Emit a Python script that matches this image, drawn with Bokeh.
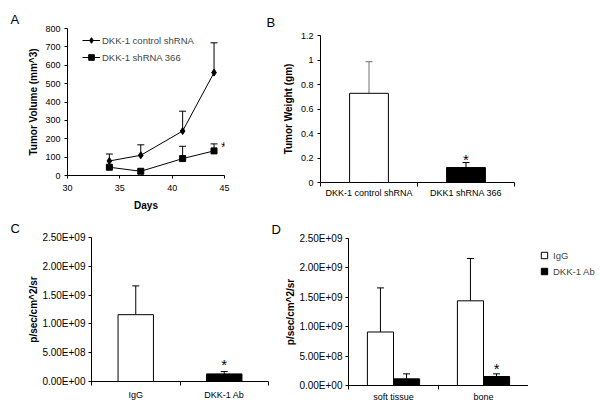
from bokeh.plotting import figure
from bokeh.layouts import column, row
from bokeh.models import (ColumnDataSource, Whisker, TeeHead, FixedTicker, Range1d,
                          Legend, LegendItem, Label, Spacer)
from bokeh.embed import file_html
from bokeh.resources import INLINE

FONT = "Liberation Sans"

# ---------------- Panel A data ----------------
days = [34, 37, 41, 44]
ctrl_vol = [79, 110, 242, 560]
ctrl_err = [38, 57, 108, 162]
sh_vol = [45, 23, 92, 134]
sh_err = [0, 0, 67, 38]
a_xticks = [30, 35, 40, 45]
a_yticks = [0, 100, 200, 300, 400, 500, 600, 700, 800]

# ---------------- Panel B data ----------------
b_groups = ["DKK-1 control shRNA", "DKK1 shRNA 366"]
b_weight = [0.728, 0.122]
b_err = [0.258, 0.041]
b_colors = ["white", "black"]
b_yticks = [0, 0.2, 0.4, 0.6, 0.8, 1.0, 1.2]
b_ylabels = ["0", "0.2", "0.4", "0.6", "0.8", "1", "1.2"]

# ---------------- Panel C data ----------------
c_groups = ["IgG", "DKK-1 Ab"]
c_signal = [1.16e9, 0.132e9]
c_err = [0.50e9, 0.040e9]
c_colors = ["white", "black"]

# ---------------- Panel D data ----------------
d_sites = ["soft tissue", "bone"]
d_series = ["IgG", "DKK-1 Ab"]
d_igg = [0.91e9, 1.44e9]
d_igg_err = [0.75e9, 0.72e9]
d_ab = [0.113e9, 0.153e9]
d_ab_err = [0.085e9, 0.045e9]

sci_ticks = [0, 500000000, 1000000000, 1500000000, 2000000000, 2500000000]
sci_labels = ["0.00E+00", "5.00E+08", "1.00E+09", "1.50E+09", "2.00E+09", "2.50E+09"]


def style(p):
    p.outline_line_color = None
    p.xgrid.visible = False
    p.ygrid.visible = False
    p.background_fill_color = "white"
    p.border_fill_color = "white"
    for ax in p.axis:
        ax.axis_line_color = "black"
        ax.major_tick_line_color = "black"
        ax.major_tick_in = 0
        ax.major_tick_out = 3
        ax.minor_tick_line_color = None
        ax.major_label_text_font = FONT
        ax.major_label_text_font_size = "9px"
        ax.major_label_text_color = "black"
        ax.axis_label_text_font = FONT
        ax.axis_label_text_font_size = "10px"
        ax.axis_label_text_font_style = "bold"
        ax.axis_label_text_color = "black"


def letter(p, txt, offset, standoff):
    p.title.text = txt
    p.title.align = "left"
    p.title.offset = offset
    p.title.standoff = standoff
    p.title.text_font = FONT
    p.title.text_font_size = "13px"
    p.title.text_font_style = "normal"
    p.title.text_color = "black"


def star(p, x, y, dx, dy):
    p.add_layout(Label(x=x, y=y, text="*", x_offset=dx, y_offset=dy,
                       text_font=FONT, text_font_size="15px", text_align="center",
                       text_baseline="middle", text_color="black"))


def whisk(p, xs, vals, errs, color="black"):
    keep = [i for i in range(len(xs)) if errs[i] > 0]
    src = ColumnDataSource(dict(base=[xs[i] for i in keep],
                                lower=[vals[i] for i in keep],
                                upper=[vals[i] + errs[i] for i in keep]))
    p.add_layout(Whisker(source=src, base="base", lower="lower", upper="upper",
                         dimension="height", line_color=color, line_width=1,
                         lower_head=None,
                         upper_head=TeeHead(size=7, line_color=color, line_width=1)))


def cat_axis(p, labels, standoff):
    centers = [i + 0.5 for i in range(len(labels))]
    bounds = [float(i) for i in range(len(labels) + 1)]
    ax = p.xaxis[0]
    ax.ticker = FixedTicker(ticks=centers, minor_ticks=bounds)
    ax.major_label_overrides = {c: l for c, l in zip(centers, labels)}
    ax.major_tick_out = 0
    ax.minor_tick_line_color = "black"
    ax.minor_tick_in = 0
    ax.minor_tick_out = 4
    ax.major_label_standoff = standoff
    return centers


def sci_axis(p, standoff):
    ax = p.yaxis[0]
    ax.ticker = FixedTicker(ticks=sci_ticks)
    ax.major_label_overrides = {t: l for t, l in zip(sci_ticks, sci_labels)}
    ax.major_label_text_font_size = "10px"
    ax.axis_label = "p/sec/cm^2/sr"
    ax.major_label_standoff = 3
    ax.axis_label_standoff = standoff


# ================= Panel A =================
pA = figure(width=262, height=214, x_range=Range1d(30, 45), y_range=Range1d(0, 800),
            min_border_left=67, min_border_right=38, min_border_top=28, min_border_bottom=39,
            output_backend="svg", toolbar_location=None)
style(pA)
pA.xaxis.ticker = FixedTicker(ticks=a_xticks)
pA.yaxis.ticker = FixedTicker(ticks=a_yticks)
pA.xaxis.axis_label = "Days"
pA.yaxis.axis_label = "Tumor Volume (mm^3)"
pA.xaxis.major_label_standoff = 6
pA.yaxis.major_label_standoff = 4
pA.xaxis.axis_label_standoff = 6
pA.yaxis.axis_label_standoff = 3

whisk(pA, days, ctrl_vol, ctrl_err)
whisk(pA, days, sh_vol, sh_err)
l1 = pA.line(days, ctrl_vol, line_color="black", line_width=1)
s1 = pA.scatter(days, ctrl_vol, marker="diamond", size=7, fill_color="black", line_color="black")
l2 = pA.line(days, sh_vol, line_color="black", line_width=1)
s2 = pA.scatter(days, sh_vol, marker="square", size=6, fill_color="black", line_color="black")

legA = Legend(items=[LegendItem(label="DKK-1 control shRNA", renderers=[l1, s1]),
                     LegendItem(label="DKK-1 shRNA 366", renderers=[l2, s2])],
              location=(15, 111), padding=0, margin=0, spacing=3,
              glyph_width=18, glyph_height=14, label_height=14, label_standoff=2,
              border_line_color=None, background_fill_alpha=0,
              label_text_font=FONT, label_text_font_size="9.5px")
pA.add_layout(legA)
star(pA, days[-1], sh_vol[-1] + sh_err[-1], 10, -3)
letter(pA, "A", -57, 4)

# ================= Panel B =================
pB = figure(width=338, height=207, x_range=Range1d(0, 2), y_range=Range1d(0, 1.2),
            min_border_left=58, min_border_right=86, min_border_top=28, min_border_bottom=32,
            output_backend="svg", toolbar_location=None)
style(pB)
bx = cat_axis(pB, b_groups, 1)
pB.yaxis.ticker = FixedTicker(ticks=b_yticks)
pB.yaxis.major_label_overrides = {t: l for t, l in zip(b_yticks, b_ylabels)}
pB.yaxis.axis_label = "Tumor Weight (gm)"
pB.yaxis.major_label_standoff = 4
pB.yaxis.axis_label_standoff = 4
pB.vbar(x=bx, top=b_weight, width=0.4, bottom=0, fill_color=b_colors, line_color="black")
whisk(pB, bx[:1], b_weight[:1], b_err[:1], color="#707070")
whisk(pB, bx[1:], b_weight[1:], b_err[1:])
star(pB, bx[1], b_weight[1] + b_err[1], 0, 3)
letter(pB, "B", -54, 11)

# ================= Panel C =================
pC = figure(width=270, height=196, x_range=Range1d(0, 2), y_range=Range1d(0, 2.5e9),
            min_border_left=91, min_border_right=2, min_border_top=23, min_border_bottom=29,
            output_backend="svg", toolbar_location=None)
style(pC)
cx = cat_axis(pC, c_groups, 4)
sci_axis(pC, 0)
pC.vbar(x=cx, top=c_signal, width=0.4, bottom=0, fill_color=c_colors, line_color="black")
whisk(pC, cx, c_signal, c_err)
star(pC, cx[1], c_signal[1] + c_err[1], 0, 7)
letter(pC, "C", -81, 3)

# ================= Panel D =================
pD = figure(width=258, height=195, x_range=Range1d(0, 2), y_range=Range1d(0, 2.5e9),
            min_border_left=78, min_border_right=0, min_border_top=23, min_border_bottom=25,
            output_backend="svg", toolbar_location=None)
style(pD)
dx = cat_axis(pD, d_sites, 2)
sci_axis(pD, 0)
half = 0.145
x_igg = [c - half for c in dx]
x_ab = [c + half for c in dx]
pD.vbar(x=x_igg, top=d_igg, width=0.29, bottom=0, fill_color="white", line_color="black")
pD.vbar(x=x_ab, top=d_ab, width=0.29, bottom=0, fill_color="black", line_color="black")
whisk(pD, x_igg, d_igg, d_igg_err)
whisk(pD, x_ab, d_ab, d_ab_err)
star(pD, x_ab[1], d_ab[1] + d_ab_err[1], 0, 5)
letter(pD, "D", -77, 3)

# legend of panel D, drawn in a narrow companion figure to the right
# (the series are re-plotted there as square markers only so that the legend
#  has glyphs; that figure's visible y range lies below zero, so none shows)
pL = figure(width=72, height=195, x_range=Range1d(0, 2), y_range=Range1d(-5e9, -2.5e9),
            min_border=0, x_axis_type=None, y_axis_type=None,
            output_backend="svg", toolbar_location=None)
pL.outline_line_color = None
pL.xgrid.visible = False
pL.ygrid.visible = False
rI = pL.scatter(x=x_igg, y=d_igg, marker="square", size=7,
                fill_color="white", line_color="black")
rA = pL.scatter(x=x_ab, y=d_ab, marker="square", size=7,
                fill_color="black", line_color="black")
legD = Legend(items=[LegendItem(label=d_series[0], renderers=[rI]),
                     LegendItem(label=d_series[1], renderers=[rA])],
              location=(8, 131), padding=0, margin=0, spacing=-2,
              glyph_width=16, glyph_height=16, label_height=16, label_standoff=1,
              border_line_color=None, background_fill_alpha=0,
              label_text_font=FONT, label_text_font_size="9.5px")
pL.add_layout(legD)

layout = column(row(pA, column(Spacer(width=338, height=7), pB)),
                row(pC, column(Spacer(width=258, height=1), pD),
                    column(Spacer(width=72, height=1), pL)))
open("out.html", "w").write(file_html(layout, INLINE))
